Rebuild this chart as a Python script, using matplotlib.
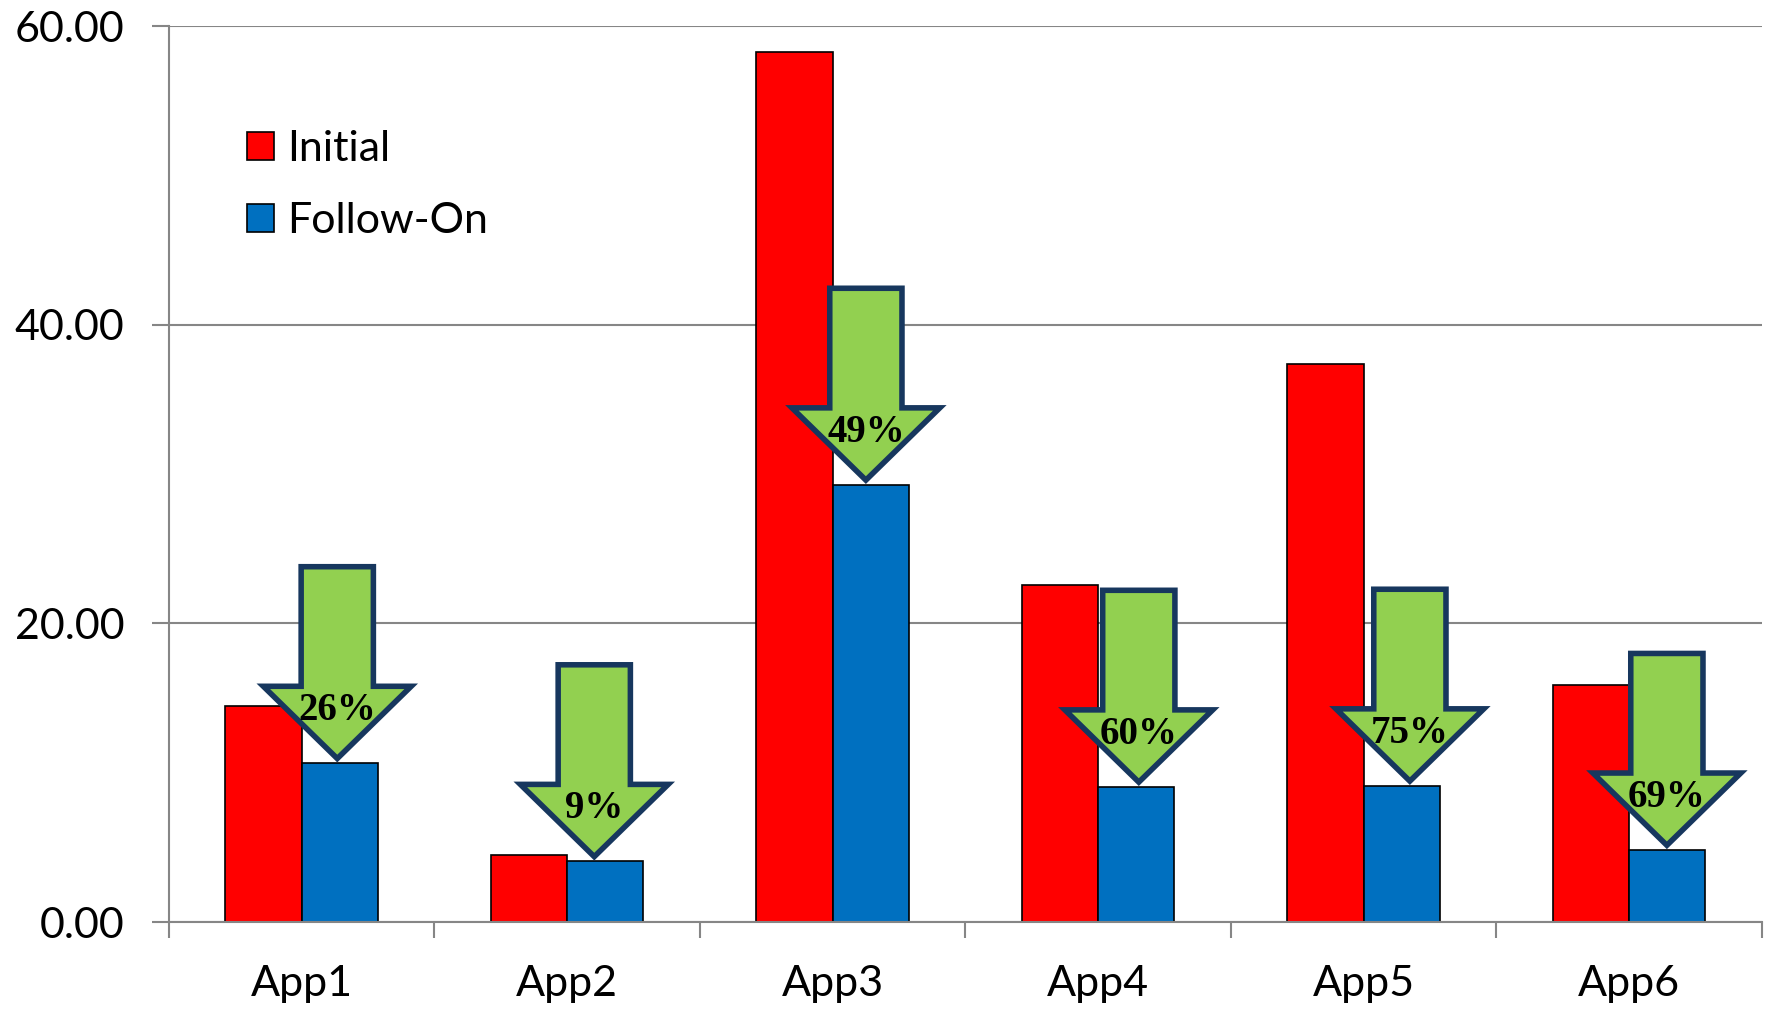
import matplotlib
matplotlib.use("Agg")

import matplotlib.pyplot as plt
from matplotlib.patches import Polygon
from matplotlib.ticker import FixedLocator, FormatStrFormatter

# ---------------------------------------------------------------------------
# Data
# ---------------------------------------------------------------------------

apps = ["App1", "App2", "App3", "App4", "App5", "App6"]
initial = [14.5, 4.46, 58.3, 22.6, 37.4, 15.9]
follow_on = [10.65, 4.08, 29.3, 9.07, 9.14, 4.84]
reduction_labels = ["26%", "9%", "49%", "60%", "75%", "69%"]

# arrow placement (x offset of the tip from the category centre)
arrow_dx = [0.134, 0.102, 0.125, 0.153, 0.174, 0.142]

RED = "#FF0000"
BLUE = "#0070C0"
GREEN = "#92D050"
NAVY = "#17375E"
GRID = "#868686"

BAR_W = 0.287
SHAFT_W = 0.272
HEAD_W = 0.557
HEAD_H = 4.84
ARROW_H = 12.85
TIP_GAP = 0.3


def down_arrow(x_tip, y_tip):
    """Block arrow polygon pointing down at (x_tip, y_tip), in data units."""
    y_base = y_tip + HEAD_H
    y_top = y_tip + ARROW_H
    return [
        (x_tip - SHAFT_W / 2, y_top),
        (x_tip + SHAFT_W / 2, y_top),
        (x_tip + SHAFT_W / 2, y_base),
        (x_tip + HEAD_W / 2, y_base),
        (x_tip, y_tip),
        (x_tip - HEAD_W / 2, y_base),
        (x_tip - SHAFT_W / 2, y_base),
    ]


def main():
    plt.rcParams["font.family"] = ["Lato", "DejaVu Sans"]

    fig = plt.figure(figsize=(17.69, 10.10), dpi=100)
    ax = fig.add_axes([0.0955, 0.0871, 0.9005, 0.8869])

    x = list(range(len(apps)))
    ax.bar([i - BAR_W / 2 for i in x], initial, width=BAR_W, color=RED,
           edgecolor="black", linewidth=1.2, label="Initial", zorder=2)
    ax.bar([i + BAR_W / 2 for i in x], follow_on, width=BAR_W, color=BLUE,
           edgecolor="black", linewidth=1.2, label="Follow-On", zorder=2)

    # green "reduction" arrows pointing at the follow-on bars
    for i, (f, lab, dx) in enumerate(zip(follow_on, reduction_labels, arrow_dx)):
        tip_x = i + dx
        tip_y = f + TIP_GAP
        ax.add_patch(Polygon(down_arrow(tip_x, tip_y), closed=True,
                             facecolor=GREEN, edgecolor=NAVY, linewidth=4,
                             joinstyle="miter", zorder=3))
        ax.text(tip_x, tip_y + 3.2, lab, ha="center", va="center",
                fontsize=28, fontweight="bold", family="Liberation Serif",
                color="black", zorder=4)

    ax.set_xlim(-0.5, len(apps) - 0.5)
    ax.set_ylim(0, 60)

    # y axis
    ax.yaxis.set_major_locator(FixedLocator([0, 20, 40, 60]))
    ax.yaxis.set_major_formatter(FormatStrFormatter("%.2f"))
    ax.grid(axis="y", color=GRID, linewidth=1.5, zorder=0)
    ax.set_axisbelow(True)

    # x axis: ticks between categories, labels at the centres
    ax.set_xticks([i - 0.5 for i in range(len(apps) + 1)])
    ax.set_xticklabels([])
    ax.set_xticks(x, minor=True)
    ax.set_xticklabels(apps, minor=True)

    ax.tick_params(axis="y", which="major", direction="out", length=12,
                   width=1.5, color=GRID, pad=20, labelsize=31)
    ax.tick_params(axis="x", which="major", direction="out", length=11.5,
                   width=1.5, color=GRID)
    ax.tick_params(axis="x", which="minor", length=0, pad=31, labelsize=31)

    for side in ("top", "right"):
        ax.spines[side].set_visible(False)
    for side in ("left", "bottom"):
        ax.spines[side].set_color(GRID)
        ax.spines[side].set_linewidth(1.5)

    ax.legend(loc="upper left", bbox_to_anchor=(0.049, 0.884), frameon=False,
              fontsize=31, handlelength=0.63, handleheight=0.63,
              handletextpad=0.3, labelspacing=0.78, borderpad=0,
              borderaxespad=0)

    fig.savefig("out.png", dpi=100)
    plt.close(fig)


if __name__ == "__main__":
    main()
